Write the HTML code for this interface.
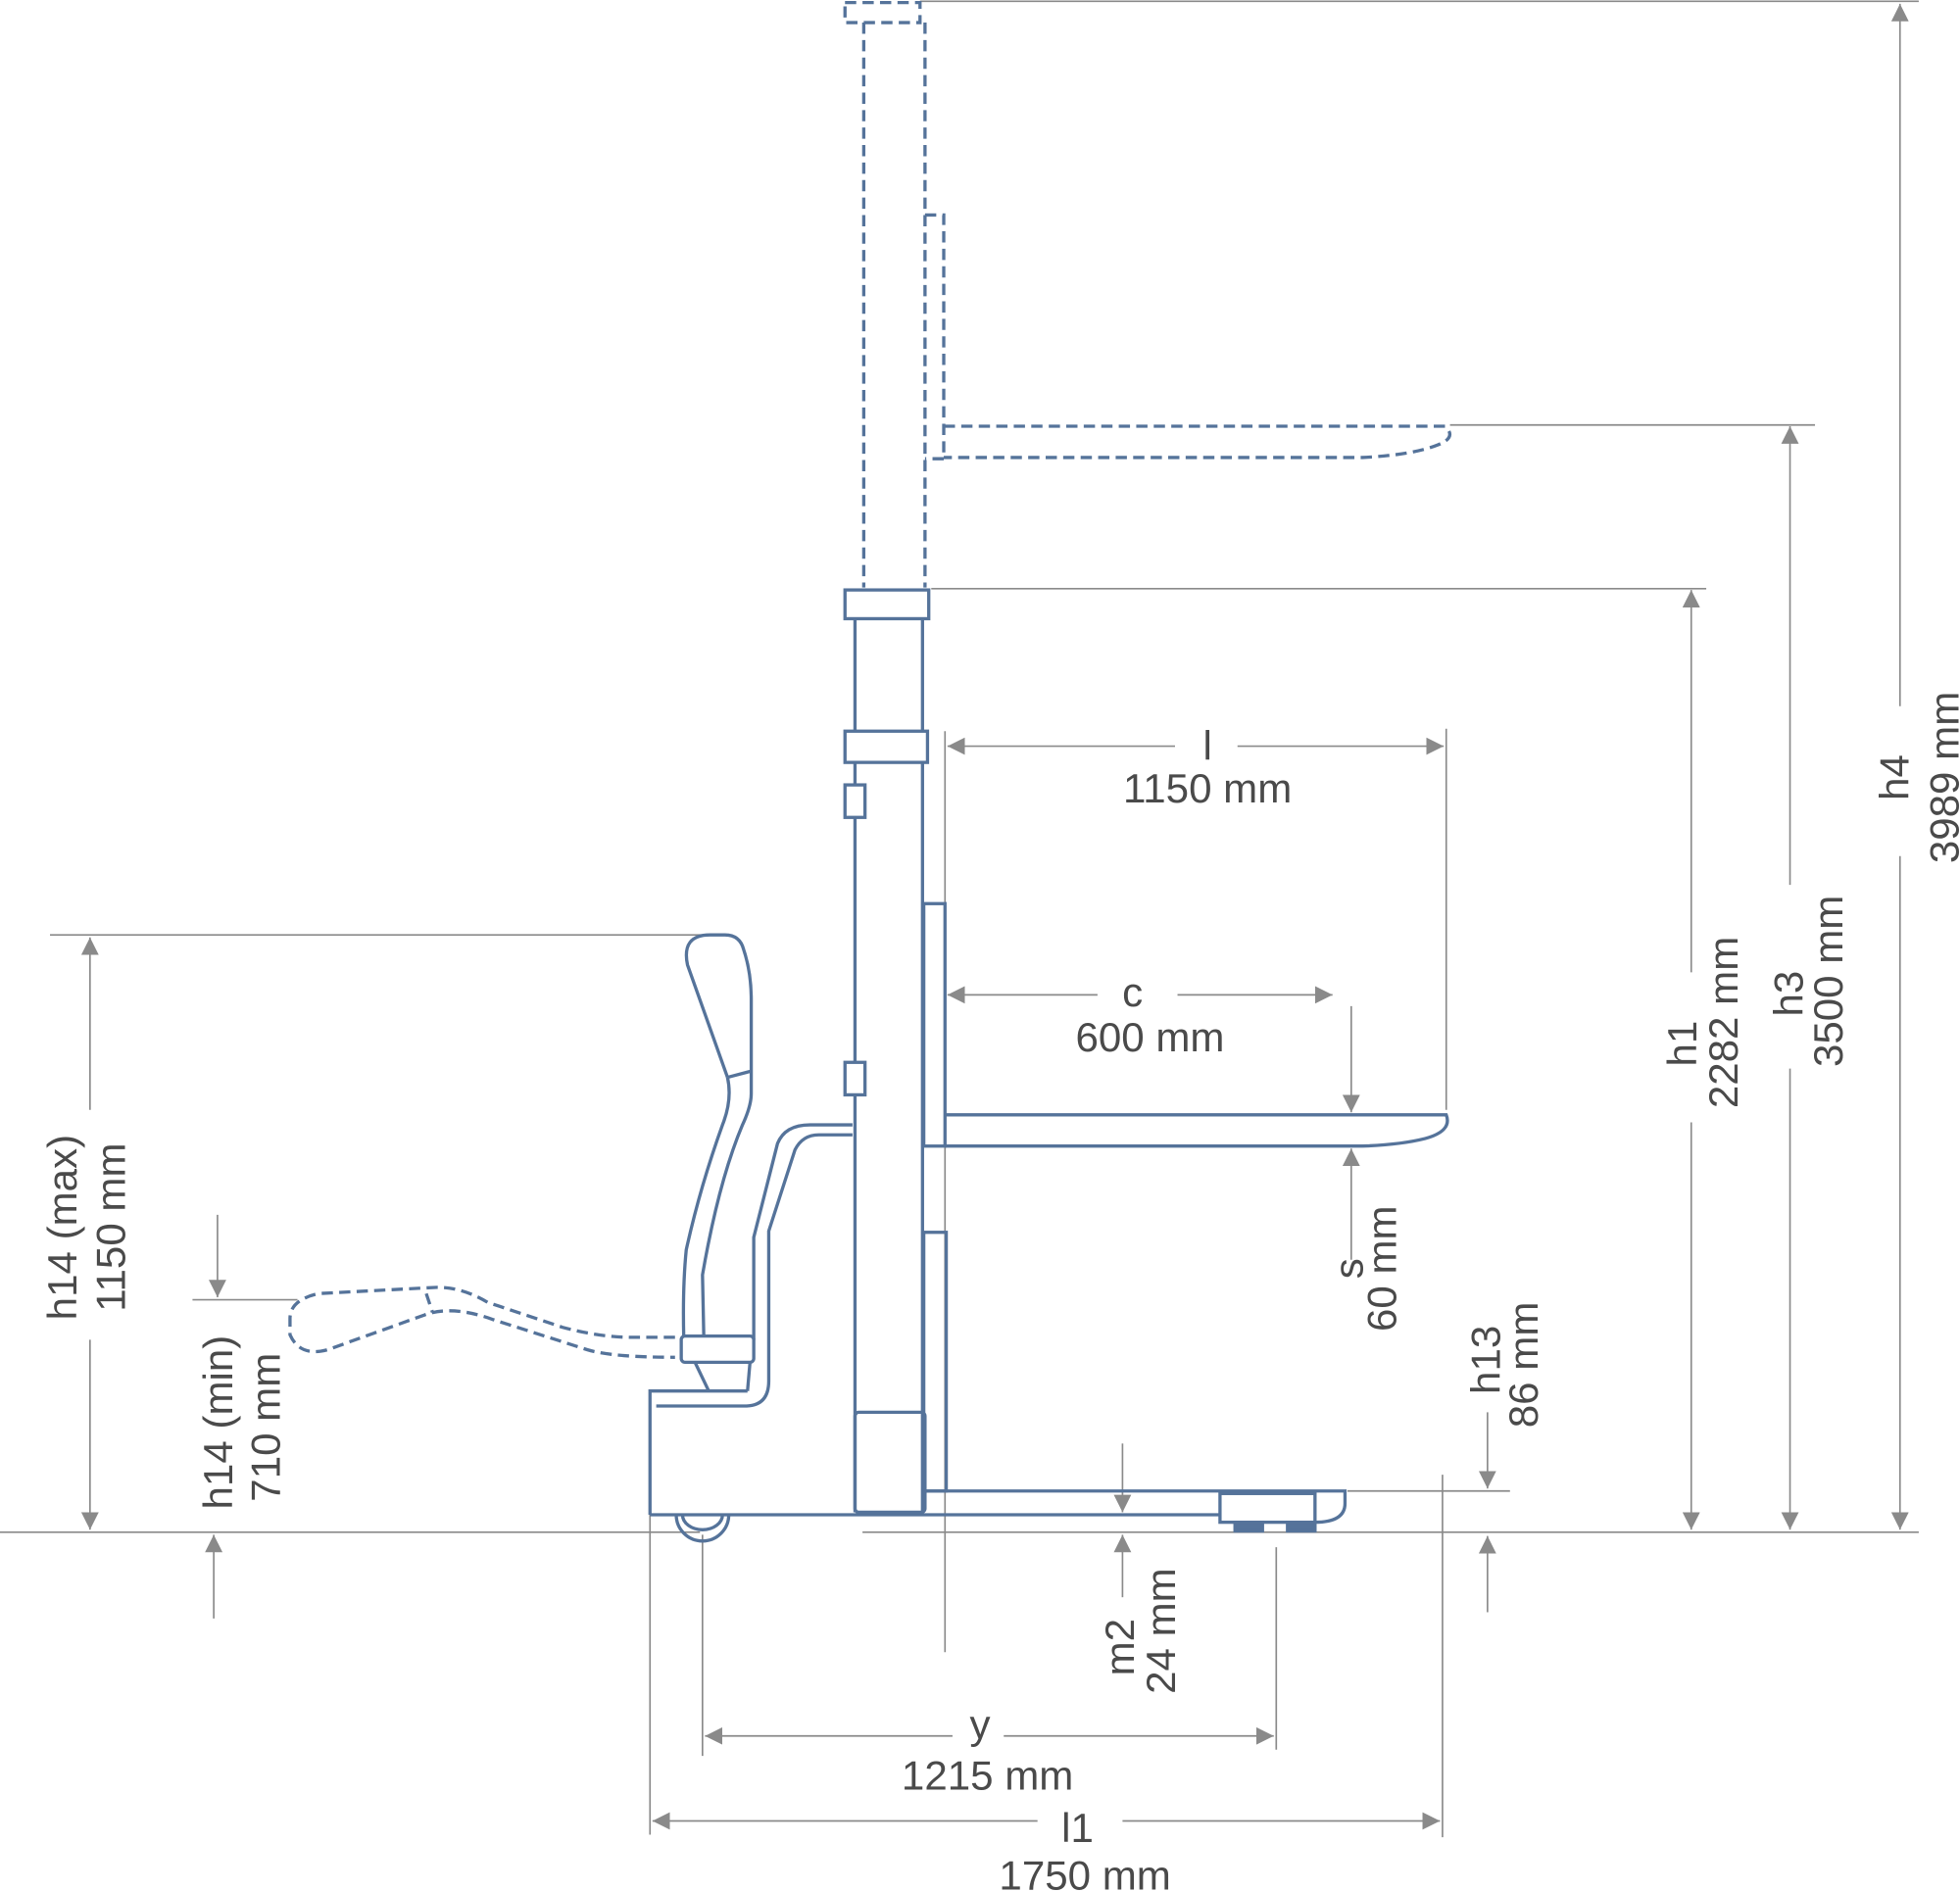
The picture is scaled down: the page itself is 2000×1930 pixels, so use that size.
<!DOCTYPE html>
<html><head><meta charset="utf-8"><style>
html,body{margin:0;padding:0;background:#fff;}
svg{display:block;}
text{font-family:"Liberation Sans",sans-serif;font-size:33px;fill:#4a4a4a;}
</style></head><body>
<svg width="2000" height="1930" viewBox="0 0 1568 1513" xmlns="http://www.w3.org/2000/svg">
<defs>
<marker id="a" viewBox="0 0 10 10" refX="10" refY="5" markerWidth="14" markerHeight="14" markerUnits="userSpaceOnUse" orient="auto-start-reverse"><path d="M0,0 L10,5 L0,10 z" fill="#8a8a8a"/></marker>
</defs>
<g stroke="#8a8a8a" stroke-width="1.3" fill="none">
<line x1="0" y1="1226" x2="560" y2="1226"/><line x1="690" y1="1226" x2="1535" y2="1226"/>
<line x1="736" y1="1" x2="1535" y2="1"/>
<line x1="1520" y1="565" x2="1520" y2="3" marker-end="url(#a)"/>
<line x1="1520" y1="685" x2="1520" y2="1224" marker-end="url(#a)"/>
<line x1="1160" y1="340" x2="1452" y2="340"/>
<line x1="1432" y1="708" x2="1432" y2="341" marker-end="url(#a)"/>
<line x1="1432" y1="855" x2="1432" y2="1224" marker-end="url(#a)"/>
<line x1="745" y1="471" x2="1365" y2="471"/>
<line x1="1353" y1="778" x2="1353" y2="472" marker-end="url(#a)"/>
<line x1="1353" y1="898" x2="1353" y2="1224" marker-end="url(#a)"/>
<line x1="756" y1="585" x2="756" y2="1322"/>
<line x1="1157" y1="583" x2="1157" y2="888"/>
<line x1="940" y1="597" x2="758" y2="597" marker-end="url(#a)"/>
<line x1="990" y1="597" x2="1155" y2="597" marker-end="url(#a)"/>
<line x1="878" y1="796" x2="758" y2="796" marker-end="url(#a)"/>
<line x1="942" y1="796" x2="1066" y2="796" marker-end="url(#a)"/>
<line x1="1081" y1="805" x2="1081" y2="890" marker-end="url(#a)"/>
<line x1="1081" y1="1008" x2="1081" y2="919" marker-end="url(#a)"/>
<line x1="40" y1="748" x2="580" y2="748"/>
<line x1="72" y1="888" x2="72" y2="750" marker-end="url(#a)"/>
<line x1="72" y1="1072" x2="72" y2="1224" marker-end="url(#a)"/>
<line x1="154" y1="1040" x2="238" y2="1040"/>
<line x1="174" y1="972" x2="174" y2="1038" marker-end="url(#a)"/>
<line x1="171" y1="1295" x2="171" y2="1228" marker-end="url(#a)"/>
<line x1="1078" y1="1193" x2="1208" y2="1193"/>
<line x1="1190" y1="1130" x2="1190" y2="1191" marker-end="url(#a)"/>
<line x1="1190" y1="1290" x2="1190" y2="1229" marker-end="url(#a)"/>
<line x1="898" y1="1155" x2="898" y2="1210" marker-end="url(#a)"/>
<line x1="898" y1="1278" x2="898" y2="1228" marker-end="url(#a)"/>
<line x1="562" y1="1228" x2="562" y2="1405"/><line x1="1021" y1="1238" x2="1021" y2="1400"/>
<line x1="762" y1="1389" x2="564" y2="1389" marker-end="url(#a)"/>
<line x1="803" y1="1389" x2="1019" y2="1389" marker-end="url(#a)"/>
<line x1="520" y1="1212" x2="520" y2="1468"/><line x1="1154" y1="1180" x2="1154" y2="1470"/>
<line x1="830" y1="1457" x2="522" y2="1457" marker-end="url(#a)"/>
<line x1="898" y1="1457" x2="1152" y2="1457" marker-end="url(#a)"/>
</g>
<g stroke="#55739a" stroke-width="2.6" fill="none" stroke-dasharray="9,5">
<rect x="676" y="2" width="60" height="16"/>
<line x1="691" y1="18" x2="691" y2="470"/><line x1="740" y1="18" x2="740" y2="470"/>
<path d="M740,172 L755,172 L755,367 L740,367"/>
<path d="M755,341 L1156,341 Q1166,350 1150,356 Q1130,364 1090,366 L755,366"/>
<path d="M540,1070 L505,1070 Q480,1070 450,1062 L390,1042 Q370,1030 350,1030 L255,1035 Q232,1040 232,1055 L232,1068 Q240,1086 262,1080 L340,1052 Q362,1044 395,1056 L470,1080 Q490,1086 540,1086"/>
<line x1="341" y1="1035" x2="346" y2="1050"/>
</g>
<g stroke="#55739a" stroke-width="2.6" fill="none">
<rect x="676" y="472" width="67" height="23"/>
<line x1="684" y1="495" x2="684" y2="1210"/><line x1="738" y1="495" x2="738" y2="1210"/>
<rect x="676" y="585" width="66" height="25" fill="#fff"/>
<rect x="676" y="628" width="16" height="26" fill="#fff"/>
<rect x="676" y="850" width="16" height="26" fill="#fff"/>
<rect x="739" y="723" width="17" height="194"/>
<rect x="739" y="986" width="18" height="207"/>
<rect x="684" y="1130" width="56" height="80" rx="3"/>
<path d="M756,892 L1157,892 Q1162,905 1140,911 Q1120,916 1090,917 L756,917"/>
<path d="M520,1212 L520,1113 L598,1113"/>
<path d="M525,1125 L596,1125 Q615,1125 615,1105 L615,985 L636,920 Q642,908 655,908 L682,908"/>
<path d="M603,1072 L603,990 L622,915 Q628,900 648,900 L682,900"/>
<path d="M541,1212 A21,21 0 0 0 583,1212"/>
<path d="M546,1212 A16,12 0 0 0 578,1212"/>
<line x1="520" y1="1212" x2="976" y2="1212"/>
<path d="M740,1193 L1076,1193 L1076,1203 Q1076,1218 1052,1218"/>
<rect x="976" y="1195" width="76" height="23"/>
<rect x="988" y="1218" width="22" height="7" fill="#55739a"/>
<rect x="1030" y="1218" width="22" height="7" fill="#55739a"/>
<path d="M582,862 L550,772 Q545,748 568,748 L580,748 Q592,748 595,760 Q601,778 601,800 L601,875 Q601,885 594,900 Q575,945 562,1020 L563,1068"/>
<path d="M582,862 Q586,880 578,900 Q560,950 549,1000 Q546,1030 547,1070"/>
<line x1="582" y1="862" x2="601" y2="857"/>
<rect x="545" y="1069" width="58" height="21" rx="3"/>
<line x1="556" y1="1090" x2="567" y2="1113"/>
<line x1="600" y1="1090" x2="598" y2="1113"/>
</g>
<g>
<text x="966" y="608" text-anchor="middle">l</text>
<text x="966" y="642" text-anchor="middle">1150 mm</text>
<text x="906" y="805" text-anchor="middle">c</text>
<text x="920" y="841" text-anchor="middle">600 mm</text>
<text x="784" y="1391" text-anchor="middle">y</text>
<text x="790" y="1432" text-anchor="middle">1215 mm</text>
<text x="862" y="1474" text-anchor="middle">l1</text>
<text x="868" y="1512" text-anchor="middle">1750 mm</text>
<g text-anchor="middle">
<text transform="translate(1527,622) rotate(-90)">h4</text>
<text transform="translate(1567,622) rotate(-90)">3989 mm</text>
<text transform="translate(1442,795) rotate(-90)">h3</text>
<text transform="translate(1474,785) rotate(-90)">3500 mm</text>
<text transform="translate(1357,835) rotate(-90)">h1</text>
<text transform="translate(1390,818) rotate(-90)">2282 mm</text>
<text transform="translate(1090,1015) rotate(-90)">s</text>
<text transform="translate(1117,1015) rotate(-90)">60 mm</text>
<text transform="translate(1200,1088) rotate(-90)">h13</text>
<text transform="translate(1230,1092) rotate(-90)">86 mm</text>
<text transform="translate(907,1318) rotate(-90)">m2</text>
<text transform="translate(940,1305) rotate(-90)">24 mm</text>
<text transform="translate(61,982) rotate(-90)">h14 (max)</text>
<text transform="translate(100,982) rotate(-90)">1150 mm</text>
<text transform="translate(186,1138) rotate(-90)">h14 (min)</text>
<text transform="translate(224,1142) rotate(-90)">710 mm</text>
</g>
</g>
</svg>
</body></html>
